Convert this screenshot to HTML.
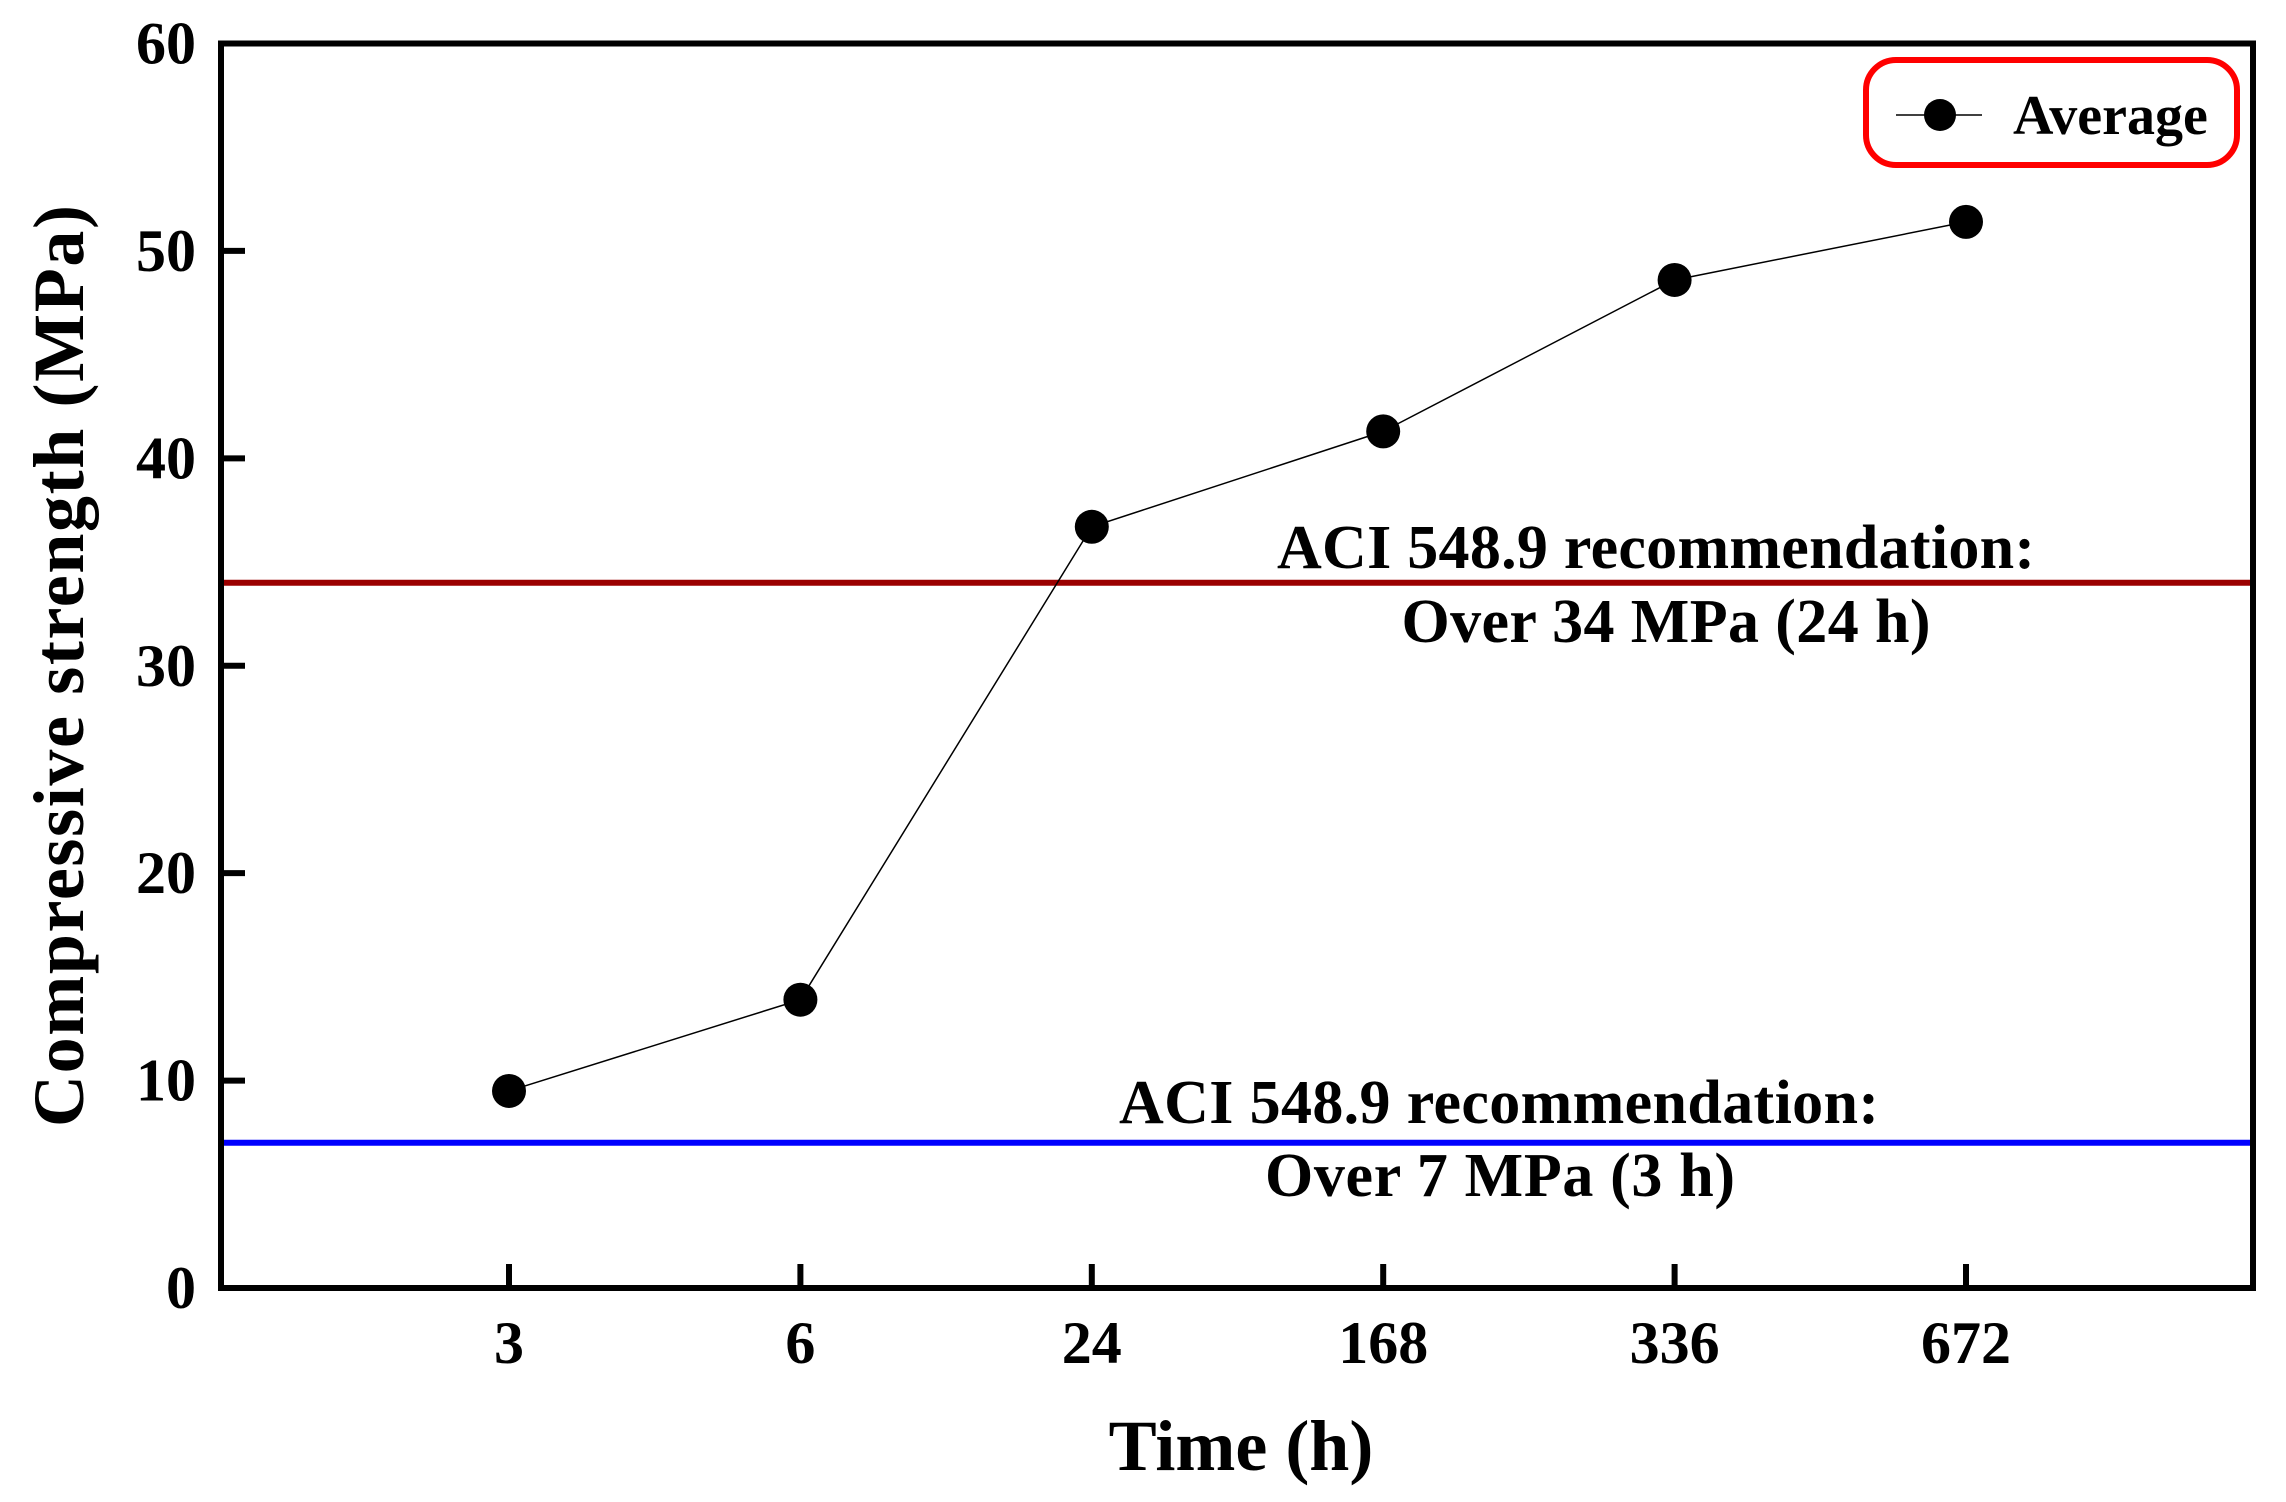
<!DOCTYPE html>
<html><head><meta charset="utf-8"><style>
html,body{margin:0;padding:0;background:#fff}
svg{display:block}
text{font-family:"Liberation Serif",serif;font-weight:bold;fill:#000}
</style></head><body>
<svg width="2286" height="1502" viewBox="0 0 2286 1502" xmlns="http://www.w3.org/2000/svg">
<g id="plot"></g>
</svg>
<script>
const categories = ["3","6","24","168","336","672"];
const strength = [9.5, 13.9, 36.7, 41.3, 48.6, 51.4];
const yTicks = [0,10,20,30,40,50,60];
const refValues = [34, 7];
const refColors = ["#9b0000","#0000ff"];
const refLine1 = ["ACI 548.9 recommendation:","ACI 548.9 recommendation:"];
const refLine2 = ["Over 34 MPa (24 h)","Over 7 MPa (3 h)"];

const L=221, R=2253, T=43.5, B=1288, yMax=60;
const x0=509, step=291.4;
const xs = i => x0 + i*step;
const ys = v => B - (B-T)*v/yMax;
const NS="http://www.w3.org/2000/svg";
const g=document.getElementById('plot');
function mk(tag, attrs, parent){const e=document.createElementNS(NS,tag);for(const k in attrs)e.setAttribute(k,attrs[k]);(parent||g).appendChild(e);return e;}

refValues.forEach((v,i)=>{
  const ln=mk('line',{x1:L,x2:R,y1:ys(v),y2:ys(v),stroke:refColors[i],'stroke-width':6});
  
  
});
const a1=mk('text',{x:1656,y:568,'text-anchor':'middle','font-size':62,textLength:758});
a1.textContent=refLine1[0];


const a2=mk('text',{x:1666,y:642,'text-anchor':'middle','font-size':62,textLength:529});
a2.textContent=refLine2[0];


const a3=mk('text',{x:1499,y:1123,'text-anchor':'middle','font-size':62,textLength:760});
a3.textContent=refLine1[1];


const a4=mk('text',{x:1500,y:1196,'text-anchor':'middle','font-size':62,textLength:470});
a4.textContent=refLine2[1];



const fr=mk('rect',{x:L,y:T,width:R-L,height:B-T,fill:'none',stroke:'#000','stroke-width':6});



yTicks.forEach(v=>{
  const y=ys(v);
  if(v>0&&v<60){const t=mk('line',{x1:L,x2:L+24,y1:y,y2:y,stroke:'#000','stroke-width':6});
  
  }
  const lb=mk('text',{x:196,y:y+20,'text-anchor':'end','font-size':60});
  lb.textContent=v;
  
  
});
categories.forEach((c,i)=>{
  const x=xs(i);
  const t=mk('line',{x1:x,x2:x,y1:B,y2:B-24,stroke:'#000','stroke-width':6});
  
  
  const lb=mk('text',{x:x,y:1363,'text-anchor':'middle','font-size':60});
  lb.textContent=c;
  
  
});

const pl=mk('polyline',{points:strength.map((v,i)=>xs(i)+','+ys(v)).join(' '),fill:'none',stroke:'#000','stroke-width':1.5});


strength.forEach((v,i)=>{
  const c=mk('circle',{cx:xs(i),cy:ys(v),r:17,fill:'#000'});
  
  
});

const lg=mk('g',{});


mk('rect',{x:1866,y:60,width:371,height:105,rx:30,fill:'#fff',stroke:'#ff0000','stroke-width':6},lg);
mk('line',{x1:1896,x2:1982,y1:115,y2:115,stroke:'#000','stroke-width':1.5},lg);
mk('circle',{cx:1940,cy:115,r:16,fill:'#000'},lg);
const lt=mk('text',{x:2013,y:134,'font-size':56},lg);
lt.textContent='Average';

const xt=mk('text',{x:1241,y:1470,'text-anchor':'middle','font-size':72});
xt.textContent='Time (h)';


const yt=mk('text',{x:0,y:0,'text-anchor':'middle','font-size':72,textLength:922,transform:'translate(83,666) rotate(-90)'});
yt.textContent='Compressive strength (MPa)';


</script>
</body></html>
